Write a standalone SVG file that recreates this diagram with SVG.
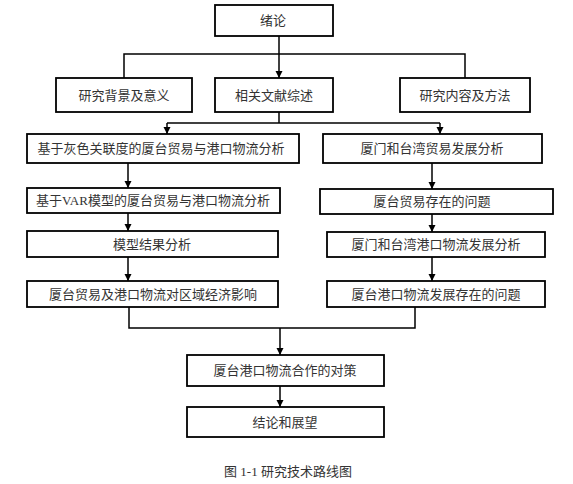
<svg xmlns="http://www.w3.org/2000/svg" width="573" height="484" viewBox="0 0 573 484">
<style>
.box{fill:#fff;stroke:#000;stroke-width:1.8}
.t{font-family:"Liberation Serif","Noto Sans CJK SC",serif;font-size:13px;fill:#333;text-anchor:middle}
.ln{fill:none;stroke:#000;stroke-width:1.5}
</style>
<defs>
<marker id="ah" markerWidth="8" markerHeight="8" refX="7" refY="4" orient="auto" markerUnits="userSpaceOnUse">
<path d="M0,0.5 L7,4 L0,7.5 Z" fill="#000"/>
</marker>
</defs>
<rect width="573" height="484" fill="#fff"/>
<g id="connectors">
<path class="ln" d="M279,36 V78" marker-end="url(#ah)"/>
<path class="ln" d="M124,78 V54 H465 V78"/>
<path class="ln" d="M279,112 V123"/>
<path class="ln" d="M167,123 H440"/>
<path class="ln" d="M167,123 V134" marker-end="url(#ah)"/>
<path class="ln" d="M440,123 V134" marker-end="url(#ah)"/>
<path class="ln" d="M128,163 V188" marker-end="url(#ah)"/>
<path class="ln" d="M128,213 V231" marker-end="url(#ah)"/>
<path class="ln" d="M128,257 V281" marker-end="url(#ah)"/>
<path class="ln" d="M432,163 V189" marker-end="url(#ah)"/>
<path class="ln" d="M432,214 V232" marker-end="url(#ah)"/>
<path class="ln" d="M432,257 V281" marker-end="url(#ah)"/>
<path class="ln" d="M129,307 V328 H415 V307"/>
<path class="ln" d="M280,328 V355" marker-end="url(#ah)"/>
<path class="ln" d="M280,386 V407" marker-end="url(#ah)"/>
</g>
<g id="n1"><rect class="box" x="215" y="5" width="118" height="31"/><text class="t" x="273" y="25">绪论</text></g>
<g id="n2"><rect class="box" x="56" y="78" width="136" height="34"/><text class="t" x="124" y="99.5">研究背景及意义</text></g>
<g id="n3"><rect class="box" x="215" y="78" width="118" height="34"/><text class="t" x="274" y="99.5">相关文献综述</text></g>
<g id="n4"><rect class="box" x="400" y="78" width="130" height="34"/><text class="t" x="465" y="99.5">研究内容及方法</text></g>
<g id="n5"><rect class="box" x="27" y="134" width="272" height="29"/><text class="t" x="161" y="153">基于灰色关联度的厦台贸易与港口物流分析</text></g>
<g id="n6"><rect class="box" x="27" y="188" width="253" height="25"/><text class="t" x="153" y="205">基于VAR模型的厦台贸易与港口物流分析</text></g>
<g id="n7"><rect class="box" x="27" y="231" width="251" height="26"/><text class="t" x="152" y="248.5">模型结果分析</text></g>
<g id="n8"><rect class="box" x="27" y="281" width="251" height="26"/><text class="t" x="153" y="298.5">厦台贸易及港口物流对区域经济影响</text></g>
<g id="n9"><rect class="box" x="323" y="134" width="219" height="29"/><text class="t" x="432" y="153">厦门和台湾贸易发展分析</text></g>
<g id="n10"><rect class="box" x="320" y="189" width="233" height="25"/><text class="t" x="432" y="206">厦台贸易存在的问题</text></g>
<g id="n11"><rect class="box" x="327" y="232" width="218" height="25"/><text class="t" x="436" y="249">厦门和台湾港口物流发展分析</text></g>
<g id="n12"><rect class="box" x="327" y="281" width="218" height="26"/><text class="t" x="436" y="298.5">厦台港口物流发展存在的问题</text></g>
<g id="n13"><rect class="box" x="187" y="355" width="197" height="31"/><text class="t" x="285" y="375">厦台港口物流合作的对策</text></g>
<g id="n14"><rect class="box" x="187" y="407" width="197" height="30"/><text class="t" x="285" y="426.5">结论和展望</text></g>
<text class="t" x="288" y="476">图 1-1  研究技术路线图</text>
</svg>
